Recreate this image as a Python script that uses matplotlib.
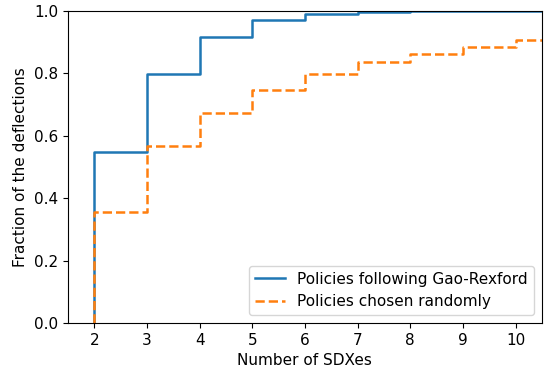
import matplotlib
matplotlib.use("Agg")
import matplotlib.pyplot as plt

sdxes = [2, 3, 4, 5, 6, 7, 8, 9, 10]
gao_rexford = [0.549, 0.797, 0.917, 0.970, 0.991, 0.997, 1.0, 1.0, 1.0]
random_pol = [0.356, 0.567, 0.673, 0.746, 0.798, 0.836, 0.864, 0.886, 0.906]

plt.rcParams['font.size'] = 11

fig = plt.figure(figsize=(5.44, 3.70), dpi=100)
ax = fig.add_axes([0.125, 0.127, 0.871, 0.843])

x = [sdxes[0]] + sdxes + [sdxes[-1] + 1]
ax.step(x, [0] + gao_rexford + [gao_rexford[-1]], where='post', color='#1f77b4',
        lw=1.8, label='Policies following Gao-Rexford')
ax.step(x, [0] + random_pol + [random_pol[-1]], where='post', color='#ff7f0e',
        lw=1.8, ls='--', label='Policies chosen randomly')

ax.set_xlim(1.5, 10.5)
ax.set_ylim(0, 1)
ax.set_xticks(sdxes)
ax.set_xlabel('Number of SDXes')
ax.set_ylabel('Fraction of the deflections')
ax.legend(loc='lower right')

fig.savefig('out.png', dpi=100)
